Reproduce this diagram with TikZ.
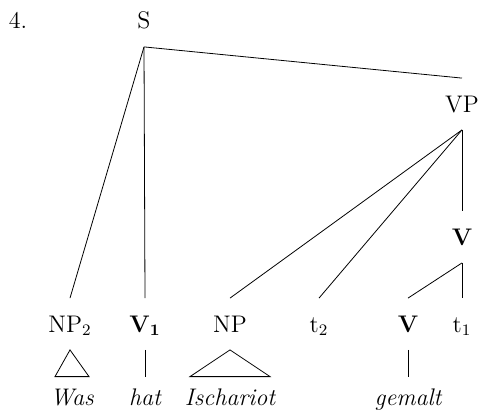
\documentclass[tikz,border=0pt]{standalone}
\usepackage{tikz}
\usetikzlibrary{calc}

\begin{document}
\begin{tikzpicture}[x=0.5pt, y=-0.5pt,
  cat/.style={inner xsep=0pt, inner ysep=7.75pt, text height=9pt, text depth=1pt, font=\fontsize{12}{14}\selectfont},
  word/.style={cat, inner ysep=5pt, font=\fontsize{12}{14}\selectfont\itshape}]
  \useasboundingbox (0,0) rectangle (480,417);

  % Example number and root
  \node[cat] (num) at (18, 21) {4.};
  \node[cat] (S) at (144, 21) {S};

  % Inner nodes
  \node[cat] (VP) at (462, 104) {VP};
  \node[cat] (Vm) at (462, 237) {\textbf{V}};

  % Leaves
  \node[cat] (NP2) at (70, 324) {NP$_2$};
  \node[cat] (V1) at (145, 324) {\textbf{V}$_{\mathbf{1}}$};
  \node[cat] (NP) at (230, 324) {NP};
  \node[cat] (t2) at (319, 324) {t$_2$};
  \node[cat] (Vl) at (408, 324) {\textbf{V}};
  \node[cat] (t1) at (462, 324) {t$_1$};

  % Words
  \node[word] (Was) at (72, 397) {Was};
  \node[word] (hat) at (145, 397) {hat};
  \node[word] (Isch) at (230, 397) {Ischariot};
  \node[word] (gemalt) at (408, 397) {gemalt};

  % Branches
  \draw (S.south) -- (NP2.north);
  \draw (S.south) -- (V1.north);
  \draw (S.south) -- (VP.north);
  \draw (VP.south) -- (NP.north);
  \draw (VP.south) -- (t2.north);
  \draw (VP.south) -- (Vm.north);
  \draw (Vm.south) -- (Vl.north);
  \draw (Vm.south) -- (t1.north);
  \draw (V1.south) -- (hat.north);
  \draw (Vl.south) -- (gemalt.north);

  % Triangles
  \draw (NP2.south) -- ($(Was.north)+(-17,0)$) -- ($(Was.north)+(17,0)$) -- cycle;
  \draw (NP.south) -- ($(Isch.north)+(-40,0)$) -- ($(Isch.north)+(40,0)$) -- cycle;
\end{tikzpicture}
\end{document}
